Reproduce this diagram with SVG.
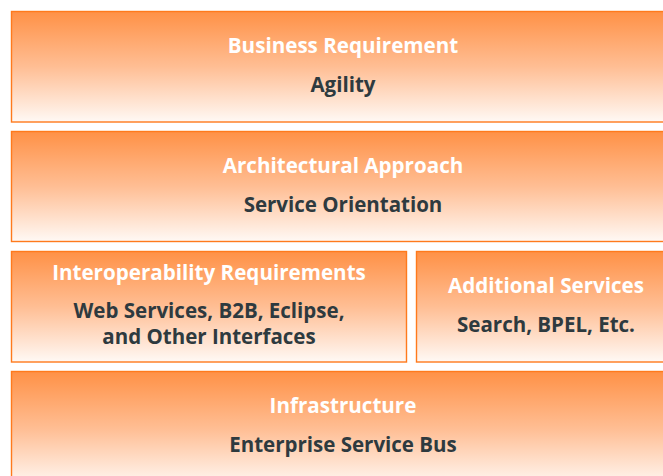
<svg xmlns="http://www.w3.org/2000/svg" width="663" height="476" viewBox="0 0 663 476">
<defs>
<linearGradient id="g" x1="0" y1="0" x2="0" y2="1">
<stop offset="0" stop-color="#FF9146"/>
<stop offset="0.5" stop-color="#FFBE94"/>
<stop offset="1" stop-color="#FFF9F5"/>
</linearGradient>
<style>
.box{fill:url(#g);stroke:#FF7A1C;stroke-width:1.4}
.t{font-family:"Open Sans","Noto Sans","Liberation Sans",sans-serif;font-weight:bold;font-size:20.5px;text-anchor:middle}
.w{fill:#FFFFFF;font-size:20.6px}
.d{fill:#2E3A3F}
</style>
</defs>
<rect width="663" height="476" fill="#FFFFFF"/>
<g id="business">
<rect class="box" x="11.5" y="11.5" width="664" height="110.5"/>
<text class="t w" x="343" y="53">Business Requirement</text>
<text class="t d" x="343" y="92">Agility</text>
</g>
<g id="architectural">
<rect class="box" x="11.5" y="131.5" width="664" height="110"/>
<text class="t w" x="343" y="173">Architectural Approach</text>
<text class="t d" x="343" y="212">Service Orientation</text>
</g>
<g id="interoperability">
<rect class="box" x="11.5" y="251.5" width="395" height="110.5"/>
<text class="t w" x="209" y="280">Interoperability Requirements</text>
<text class="t d" x="209" y="318">Web Services, B2B, Eclipse,</text>
<text class="t d" x="209" y="344">and Other Interfaces</text>
</g>
<g id="additional">
<rect class="box" x="416.5" y="251.5" width="259" height="110.5"/>
<text class="t w" x="546" y="293">Additional Services</text>
<text class="t d" x="546" y="332">Search, BPEL, Etc.</text>
</g>
<g id="infrastructure">
<rect class="box" x="11.5" y="371.5" width="664" height="115"/>
<text class="t w" x="343" y="413">Infrastructure</text>
<text class="t d" x="343" y="452">Enterprise Service Bus</text>
</g>
<g id="connectors"/>
</svg>
